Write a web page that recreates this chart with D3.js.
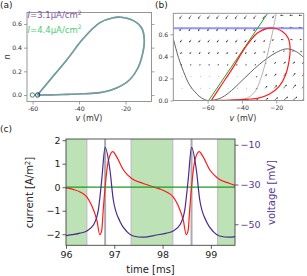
<!DOCTYPE html>
<html>
<head>
<meta charset="utf-8">
<script src="https://cdn.jsdelivr.net/npm/d3@7"></script>
<style>
  body { margin: 0; background: #fff; }
  svg { display: block; font-family: "DejaVu Sans", sans-serif; }
</style>
</head>
<body>
<div id="chart"></div>
<script>
// ---- panel (a) : limit cycle in the (v, n) plane ----
const cycleV = [-57.9, -52.0, -45.3, -38.0, -31.0, -24.1, -18.3, -14.7, -12.6, -11.9, -13.0, -16.6, -22.0, -25.3, -31.0, -38.1, -45.3, -52.5, -57.9];
const cycleN = [0.000, 0.001, 0.005, 0.010, 0.020, 0.057, 0.127, 0.226, 0.352, 0.465, 0.564, 0.628, 0.657, 0.653, 0.611, 0.479, 0.296, 0.127, 0.000];
const restV = [-57.8, -60.1];          // fixed points, I=3.1 and I=4.4
const currentLabels = ['3.1', '4.4'];
const aTicksX = [-60, -40, -20];
const aTicksY = [0, 0.2, 0.4, 0.6];

// ---- panel (b) : nullclines + vector field ----
const vNullV = [-80, -77, -74, -70.5, -67.5, -65, -62, -60, -56, -52, -48, -44, -40, -35, -30, -25, -20, -15, -12, -8, -4];
const vNullN = [0.56, 0.39, 0.26, 0.14, 0.08, 0.04, 0.01, 0.0, 0.005, 0.025, 0.065, 0.12, 0.18, 0.255, 0.325, 0.385, 0.435, 0.466, 0.465, 0.44, 0.39];
const nNullV = [-46, -40, -36, -32, -29, -26.5, -24, -22, -20, -19];
const nNullN = [0.0, 0.01, 0.03, 0.09, 0.2, 0.33, 0.49, 0.63, 0.79, 0.86];
const lineV = [-59.4, -25.0];
const lineN = [0.0, 0.79];
const nMax = 0.655;
const quiverV = [-75, -69.6, -64.2, -58.8, -53.5, -48.1, -42.7, -37.3, -31.9, -26.5, -21.2, -15.8, -10.4, -5.0];
const quiverN = [0.77, 0.66, 0.55, 0.44, 0.33, 0.22, 0.11, 0.0];
const quiverLen = [
  [5, 5, 5, 5, 5, 5, 5, 5, 5, 5, 4, 4, 4, 4],
  [5, 5, 5, 5, 5, 5, 5, 5, 5, 4, 3, 3, 4, 4],
  [4, 4, 4, 4, 4, 4, 4, 4, 4, 3, 3, 3, 3, 3],
  [3, 3, 3, 3, 3, 3, 3, 3, 3, 2, 2, 2, 2, 2],
  [2, 2, 2, 2, 2, 2, 2, 2, 2, 2, 3, 4, 4, 4],
  [1, 1, 1, 1, 1, 1, 1, 1, 2, 3, 4, 5, 5, 5],
  [1, 1, 1, 1, 1, 1, 1, 1, 2, 4, 5, 6, 6, 6],
  [1, 1, 1, 1, 1, 1, 2, 3, 4, 5, 6, 7, 7, 7]
];
const quiverAng = [
  [235, 235, 235, 235, 235, 235, 235, 235, 235, 235, 235, 175, 175, 175],
  [235, 235, 235, 235, 235, 235, 235, 235, 235, 235, 200, 175, 175, 175],
  [235, 235, 235, 235, 235, 235, 235, 235, 235, 235, 190, 170, 170, 170],
  [235, 235, 235, 235, 235, 235, 235, 235, 235, 180, 160, 60, 70, 150],
  [235, 235, 235, 235, 235, 235, 235, 235, 235, 50, 50, 50, 50, 50],
  [-45, 235, 235, 235, 235, 235, 235, 235, -30, 50, 50, 50, 50, 50],
  [-45, -45, 235, 235, 235, 235, 235, -20, -10, 50, 50, 50, 50, 50],
  [10, 10, 10, 10, 10, 10, 10, 40, 40, 40, 40, 40, 40, 40]
];
const bTicksX = [-60, -40, -20];
const bTicksY = [0, 0.2, 0.4, 0.6];

// ---- panel (c) : time traces ----
const currT = [96.00, 96.16, 96.29, 96.43, 96.53, 96.64, 96.70, 96.74, 96.77, 96.81, 96.88, 96.97, 97.05, 97.19, 97.36, 97.60, 97.80, 97.95,
               98.08, 98.22, 98.32, 98.43, 98.49, 98.53, 98.56, 98.60, 98.67, 98.76, 98.84, 98.98, 99.15, 99.39, 99.50];
const currI = [-0.03, -0.10, -0.20, -0.41, -0.77, -1.41, -2.02, -1.84, -1.00, 0.01, 1.15, 1.51, 1.29, 0.73, 0.37, 0.16, 0.02, -0.08,
               -0.20, -0.41, -0.77, -1.41, -2.02, -1.84, -1.00, 0.01, 1.15, 1.51, 1.29, 0.73, 0.37, 0.16, 0.08];
const voltT = [96.00, 96.29, 96.43, 96.57, 96.67, 96.74, 96.81, 96.91, 96.98, 97.12, 97.26, 97.39, 97.60, 97.88,
               98.08, 98.22, 98.36, 98.46, 98.53, 98.60, 98.70, 98.77, 98.91, 99.05, 99.18, 99.39, 99.50];
const voltV = [-55.7, -54.5, -53.4, -50.3, -42.8, -27.7, -11.3, -22.7, -37.8, -48.7, -53.7, -55.9, -56.5, -55.4,
               -54.5, -53.4, -50.3, -42.8, -27.7, -11.3, -22.7, -37.8, -48.7, -53.7, -55.9, -56.5, -56.2];
const zeroT = [96, 99.5];
const zeroI = [0, 0];
const bandStart = [96.00, 97.35, 99.14];
const bandEnd = [96.43, 98.21, 99.50];
const spikeT = [96.81, 98.60];
const cTicksX = [96, 97, 98, 99];
const cTicksI = [-2, -1, 0, 1, 2];
const cTicksV = [-50, -30, -10];

const FONT = '"DejaVu Sans", sans-serif';
const minus = (d) => (d < 0 ? '\u2212' + Math.abs(d) : String(d));

const svg = d3.select('#chart').append('svg').attr('width', 307).attr('height', 276);

function styleAxis(g, lineColor, textColor, size) {
  g.select('.domain').remove();
  g.selectAll('line').attr('stroke', lineColor).attr('stroke-width', 0.8);
  g.selectAll('text').attr('fill', textColor).style('font-size', size + 'px').style('font-family', FONT);
}

function frame(x0, x1, y0, y1, color) {
  svg.append('rect')
    .attr('x', x0).attr('y', y0).attr('width', x1 - x0).attr('height', y1 - y0)
    .attr('fill', 'none').attr('stroke', color).attr('stroke-width', 0.9);
}

// ================= (a) =================
const ax = d3.scaleLinear().domain([-62.4, -8.8]).range([27, 151.5]);
const ay = d3.scaleLinear().domain([-0.055, 0.697]).range([101.5, 12.5]);
const cyc = cycleV.map((v, i) => [v, cycleN[i]]);
const aLine = d3.line().x((d) => ax(d[0])).y((d) => ay(d[1])).curve(d3.curveCatmullRom.alpha(0.5));

svg.append('path').datum(cyc).attr('d', aLine)
  .attr('fill', 'none').attr('stroke', '#8a66b4').attr('stroke-width', 1.6);
svg.append('path').datum(cyc).attr('d', aLine)
  .attr('fill', 'none').attr('stroke', '#5ec08e').attr('stroke-width', 1.5).attr('opacity', 0.7);

svg.append('circle').attr('cx', ax(restV[1])).attr('cy', ay(0)).attr('r', 2.2)
  .attr('fill', 'none').attr('stroke', '#2a8a3c').attr('stroke-width', 0.9);
svg.append('circle').attr('cx', ax(restV[0])).attr('cy', ay(0)).attr('r', 2.2)
  .attr('fill', 'none').attr('stroke', '#20205e').attr('stroke-width', 0.9);

frame(27, 151.5, 12.5, 101.5, '#8a8a8a');

svg.append('g').attr('transform', 'translate(0,101.5)')
  .call(d3.axisBottom(ax).tickValues(aTicksX).tickSize(3).tickPadding(2).tickFormat((d) => String(d)))
  .call((g) => styleAxis(g, '#8a8a8a', '#333', 6.2));
svg.append('g').attr('transform', 'translate(27,0)')
  .call(d3.axisLeft(ay).tickValues(aTicksY).tickSize(3).tickPadding(2).tickFormat(d3.format('.1f')))
  .call((g) => styleAxis(g, '#8a8a8a', '#333', 6.2));
svg.append('g').attr('transform', 'translate(151.5,0)')
  .call(d3.axisRight(ay).tickValues(aTicksY).tickSize(3).tickFormat(''))
  .call((g) => styleAxis(g, '#8a8a8a', '#333', 6.2));

const legendColors = ['#7d55a8', '#4ccc78'];
currentLabels.forEach((lab, i) => {
  const t = svg.append('text').attr('x', 27.5).attr('y', 18 + i * 14.5)
    .attr('fill', legendColors[i]).style('font-size', '8.5px');
  t.append('tspan').style('font-style', 'italic').text('I');
  t.append('tspan').text('=' + lab + '\u03bcA/cm');
  t.append('tspan').attr('dy', -3.2).style('font-size', '6px').text('2');
});

svg.append('text').attr('x', 89).attr('y', 121).attr('text-anchor', 'middle')
  .attr('fill', '#333').style('font-size', '8px')
  .call((t) => {
    t.append('tspan').style('font-style', 'italic').text('v');
    t.append('tspan').text(' (mV)');
  });
svg.append('text').attr('transform', 'translate(9.5,57) rotate(-90)').attr('text-anchor', 'middle')
  .attr('fill', '#333').style('font-size', '8px').style('font-style', 'italic').text('n');
svg.append('text').attr('x', 0).attr('y', 8).attr('fill', '#222').style('font-size', '9px').text('(a)');

// ================= (b) =================
const bx = d3.scaleLinear().domain([-80, -4]).range([173.3, 303.7]);
const by = d3.scaleLinear().domain([0, 0.79]).range([100.5, 13.3]);
svg.append('clipPath').attr('id', 'clipB').append('rect')
  .attr('x', 173.3).attr('y', 13.3).attr('width', 130.4).attr('height', 87.2);
const gb = svg.append('g').attr('clip-path', 'url(#clipB)');
const bLine = d3.line().x((d) => bx(d[0])).y((d) => by(d[1])).curve(d3.curveCatmullRom.alpha(0.5));

// vector field
quiverN.forEach((n, r) => {
  quiverV.forEach((v, c) => {
    const L = quiverLen[r][c];
    const a = quiverAng[r][c] * Math.PI / 180;
    const x0 = bx(v), y0 = by(n);
    if (L <= 1) {
      gb.append('circle').attr('cx', x0).attr('cy', y0).attr('r', 0.5).attr('fill', '#aaa');
      return;
    }
    const len = L * 0.85;
    const ux = Math.cos(a), uy = -Math.sin(a);
    const x1 = x0 + ux * len, y1 = y0 + uy * len;
    const hl = Math.min(1.6, len * 0.45), hw = 0.8;
    gb.append('line').attr('x1', x0).attr('y1', y0)
      .attr('x2', x1 - ux * hl * 0.6).attr('y2', y1 - uy * hl * 0.6)
      .attr('stroke', '#222').attr('stroke-width', 0.6);
    const bxp = x1 - ux * hl, byp = y1 - uy * hl;
    gb.append('polygon')
      .attr('points', [[x1, y1], [bxp - uy * hw, byp + ux * hw], [bxp + uy * hw, byp - ux * hw]].map((p) => p.join(',')).join(' '))
      .attr('fill', '#222');
  });
});

gb.append('line').attr('x1', bx(-80)).attr('x2', bx(-4)).attr('y1', by(nMax)).attr('y2', by(nMax))
  .attr('stroke', '#8484f5').attr('stroke-width', 2).attr('opacity', 0.85);
gb.append('path').datum(vNullV.map((v, i) => [v, vNullN[i]])).attr('d', bLine)
  .attr('fill', 'none').attr('stroke', '#555').attr('stroke-width', 0.9);
gb.append('path').datum(nNullV.map((v, i) => [v, nNullN[i]])).attr('d', bLine)
  .attr('fill', 'none').attr('stroke', '#aaa').attr('stroke-width', 0.9);
gb.append('path').datum(lineV.map((v, i) => [v, lineN[i]])).attr('d', d3.line().x((d) => bx(d[0])).y((d) => by(d[1])))
  .attr('fill', 'none').attr('stroke', '#2ca02c').attr('stroke-width', 1);
gb.append('path').datum(cyc).attr('d', bLine)
  .attr('fill', 'none').attr('stroke', '#ff1a1a').attr('stroke-width', 1.2);

frame(173.3, 303.7, 13.3, 100.5, '#8a8a8a');
svg.append('g').attr('transform', 'translate(0,100.5)')
  .call(d3.axisBottom(bx).tickValues(bTicksX).tickSize(3).tickPadding(2).tickFormat(minus))
  .call((g) => styleAxis(g, '#8a8a8a', '#333', 6.2));
svg.append('g').attr('transform', 'translate(173.3,0)')
  .call(d3.axisLeft(by).tickValues(bTicksY).tickSize(3).tickPadding(2).tickFormat(d3.format('.1f')))
  .call((g) => styleAxis(g, '#8a8a8a', '#333', 6.2));
svg.append('text').attr('x', 243).attr('y', 121).attr('text-anchor', 'middle')
  .attr('fill', '#333').style('font-size', '8px')
  .call((t) => {
    t.append('tspan').style('font-style', 'italic').text('v');
    t.append('tspan').text(' (mV)');
  });
svg.append('text').attr('x', 155).attr('y', 8).attr('fill', '#222').style('font-size', '9px').text('(b)');

// ================= (c) =================
const cx = d3.scaleLinear().domain([96, 99.5]).range([66, 235]);
const cyI = d3.scaleLinear().domain([-2.47, 2.05]).range([245.3, 139]);
const cyV = d3.scaleLinear().domain([-60.6, -7.1]).range([245.3, 139]);
svg.append('clipPath').attr('id', 'clipC').append('rect')
  .attr('x', 66).attr('y', 139).attr('width', 169).attr('height', 106.3);
const gc = svg.append('g').attr('clip-path', 'url(#clipC)');

bandStart.forEach((s, i) => {
  gc.append('rect').attr('x', cx(s)).attr('y', 139).attr('width', cx(bandEnd[i]) - cx(s)).attr('height', 106.3)
    .attr('fill', '#bde2b6');
});
bandStart.concat(bandEnd).filter((t) => t > 96 && t < 99.5).forEach((t) => {
  gc.append('line').attr('x1', cx(t)).attr('x2', cx(t)).attr('y1', 139).attr('y2', 245.3)
    .attr('stroke', '#c4c4c4').attr('stroke-width', 1.4);
});
spikeT.forEach((t) => {
  gc.append('line').attr('x1', cx(t)).attr('x2', cx(t)).attr('y1', 139).attr('y2', 245.3)
    .attr('stroke', '#acacac').attr('stroke-width', 2);
});

const cLine = (ys) => d3.line().x((d) => cx(d[0])).y((d) => ys(d[1])).curve(d3.curveMonotoneX);
gc.append('path').datum(currT.map((t, i) => [t, currI[i]])).attr('d', cLine(cyI))
  .attr('fill', 'none').attr('stroke', '#ff1a1a').attr('stroke-width', 1.2);
gc.append('path').datum(zeroT.map((t, i) => [t, zeroI[i]])).attr('d', cLine(cyI))
  .attr('fill', 'none').attr('stroke', '#1f9a1f').attr('stroke-width', 1.3);
gc.append('path').datum(voltT.map((t, i) => [t, voltV[i]])).attr('d', cLine(cyV))
  .attr('fill', 'none').attr('stroke', '#4a2a8c').attr('stroke-width', 1.2);

frame(66, 235, 139, 245.3, '#444');
svg.append('g').attr('transform', 'translate(0,245.3)')
  .call(d3.axisBottom(cx).tickValues(cTicksX).tickSize(3.5).tickPadding(2.5).tickFormat(d3.format('d')))
  .call((g) => styleAxis(g, '#333', '#222', 9.5));
svg.append('g').attr('transform', 'translate(66,0)')
  .call(d3.axisLeft(cyI).tickValues(cTicksI).tickSize(3.5).tickPadding(2).tickFormat(minus))
  .call((g) => styleAxis(g, '#333', '#222', 9.5));
svg.append('g').attr('transform', 'translate(235,0)')
  .call(d3.axisRight(cyV).tickValues(cTicksV).tickSize(3.5).tickPadding(2).tickFormat(minus))
  .call((g) => styleAxis(g, '#4a2a8c', '#553a8f', 9.5));

svg.append('text').attr('x', 150.5).attr('y', 273).attr('text-anchor', 'middle')
  .attr('fill', '#222').style('font-size', '10px').text('time [ms]');
svg.append('text').attr('transform', 'translate(33,192.5) rotate(-90)').attr('text-anchor', 'middle')
  .attr('fill', '#222').style('font-size', '10px')
  .call((t) => {
    t.append('tspan').text('current [A/m');
    t.append('tspan').attr('dy', -3.5).style('font-size', '7px').text('2');
    t.append('tspan').attr('dy', 3.5).text(']');
  });
svg.append('text').attr('transform', 'translate(275,192.5) rotate(-90)').attr('text-anchor', 'middle')
  .attr('fill', '#553a8f').style('font-size', '10px').text('voltage [mV]');
svg.append('text').attr('x', 0).attr('y', 132).attr('fill', '#222').style('font-size', '9px').text('(c)');
</script>
</body>
</html>
